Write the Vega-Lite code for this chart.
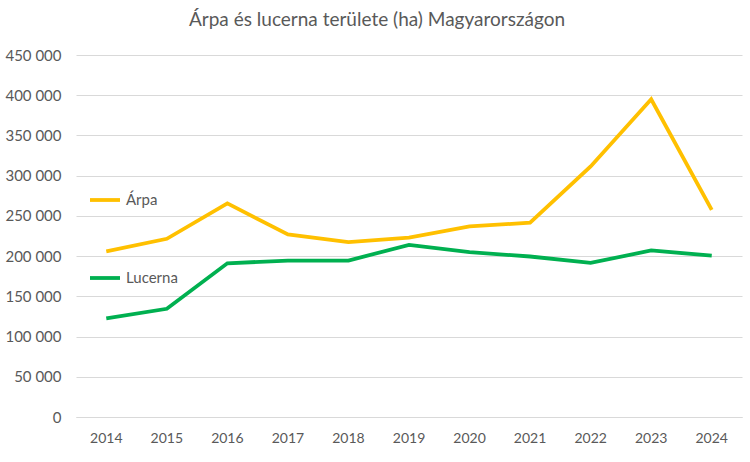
{
  "$schema": "https://vega.github.io/schema/vega-lite/v6.json",
  "width": 666,
  "height": 362,
  "autosize": "none",
  "padding": {"left": 76, "top": 55, "right": 8, "bottom": 45},
  "background": "white",
  "title": {
    "text": "Árpa és lucerna területe (ha) Magyarországon",
    "font": "Lato",
    "fontSize": 19,
    "fontWeight": "normal",
    "color": "#595959",
    "anchor": "middle",
    "offset": 18,
    "dx": -32
  },
  "config": {
    "view": {"stroke": null},
    "font": "Lato"
  },
  "data": {
    "values": [
      {"ev": "2014", "noveny": "Árpa", "ha": 206000},
      {"ev": "2015", "noveny": "Árpa", "ha": 221500},
      {"ev": "2016", "noveny": "Árpa", "ha": 265500},
      {"ev": "2017", "noveny": "Árpa", "ha": 227000},
      {"ev": "2018", "noveny": "Árpa", "ha": 217500},
      {"ev": "2019", "noveny": "Árpa", "ha": 223000},
      {"ev": "2020", "noveny": "Árpa", "ha": 237000},
      {"ev": "2021", "noveny": "Árpa", "ha": 241500},
      {"ev": "2022", "noveny": "Árpa", "ha": 311500},
      {"ev": "2023", "noveny": "Árpa", "ha": 395000},
      {"ev": "2024", "noveny": "Árpa", "ha": 257500},
      {"ev": "2014", "noveny": "Lucerna", "ha": 122500},
      {"ev": "2015", "noveny": "Lucerna", "ha": 134500},
      {"ev": "2016", "noveny": "Lucerna", "ha": 191000},
      {"ev": "2017", "noveny": "Lucerna", "ha": 194500},
      {"ev": "2018", "noveny": "Lucerna", "ha": 194500},
      {"ev": "2019", "noveny": "Lucerna", "ha": 214000},
      {"ev": "2020", "noveny": "Lucerna", "ha": 205000},
      {"ev": "2021", "noveny": "Lucerna", "ha": 199500},
      {"ev": "2022", "noveny": "Lucerna", "ha": 191500},
      {"ev": "2023", "noveny": "Lucerna", "ha": 207000},
      {"ev": "2024", "noveny": "Lucerna", "ha": 200500}
    ]
  },
  "mark": {"type": "line", "strokeWidth": 3.8, "strokeCap": "butt", "strokeJoin": "miter"},
  "encoding": {
    "x": {
      "field": "ev",
      "type": "ordinal",
      "title": null,
      "scale": {"type": "band", "paddingInner": 0, "paddingOuter": 0},
      "axis": {
        "labelAngle": 0,
        "ticks": false,
        "domain": true,
        "domainColor": "#d9d9d9",
        "labelColor": "#595959",
        "labelFontSize": 14,
        "labelPadding": 14,
        "grid": false
      }
    },
    "y": {
      "field": "ha",
      "type": "quantitative",
      "title": null,
      "scale": {"domain": [0, 450000], "nice": false},
      "axis": {
        "values": [0, 50000, 100000, 150000, 200000, 250000, 300000, 350000, 400000, 450000],
        "labelExpr": "replace(format(datum.value, ',d'), ',', ' ')",
        "ticks": false,
        "domain": false,
        "gridColor": "#d9d9d9",
        "labelColor": "#595959",
        "labelFontSize": 15,
        "labelPadding": 15
      }
    },
    "color": {
      "field": "noveny",
      "type": "nominal",
      "scale": {"domain": ["Árpa", "Lucerna"], "range": ["#FFC000", "#00B050"]},
      "legend": {
        "title": null,
        "orient": "none",
        "legendX": 12,
        "legendY": 128,
        "symbolType": "stroke",
        "symbolSize": 900,
        "symbolStrokeWidth": 3.8,
        "labelFontSize": 15,
        "labelColor": "#595959",
        "labelOffset": 4,
        "rowPadding": 53
      }
    }
  }
}
